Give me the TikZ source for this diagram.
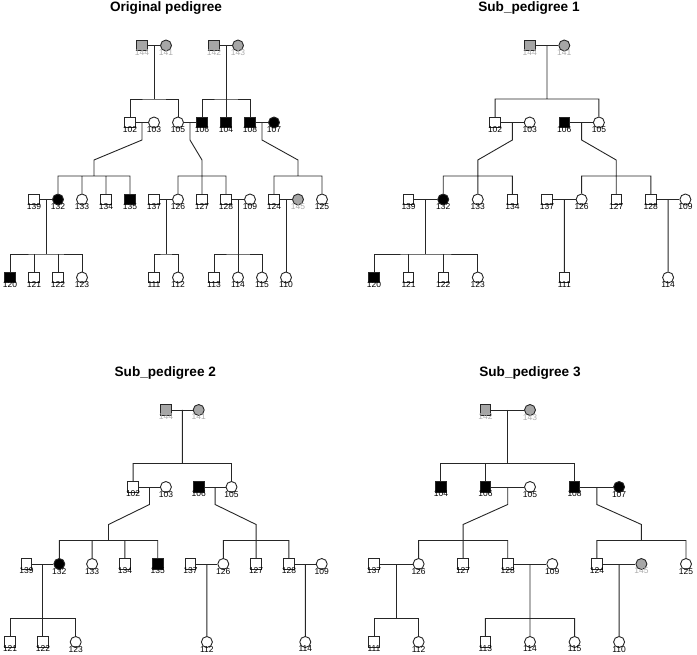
\documentclass[tikz,border=0pt]{standalone}
\usepackage{fontspec}
\setmainfont{Liberation Sans}
\usepackage{xcolor}
\usepackage{tikz}
\usetikzlibrary{calc}

\definecolor{pedgrey}{RGB}{166,166,166}
\definecolor{labgrey}{RGB}{172,172,172}

\begin{document}
\begin{tikzpicture}[x=1pt, y=-1pt, label distance=-2pt, every label/.style={font=\fontsize{8.5}{10}\selectfont, inner sep=0pt}]
	\tikzstyle{male} = [rectangle, minimum size=10.5pt, inner sep=0pt, draw=black!85, line width=0.9pt, fill=white]
	\tikzstyle{female} = [circle, minimum size=11pt, inner sep=0pt, draw=black!85, line width=0.9pt, fill=white]
	\tikzstyle{aff} = [fill=black]
	\tikzstyle{unk} = [fill=pedgrey]
	\tikzstyle{greylab} = [text=labgrey]
	\tikzstyle{heading} = [font=\fontsize{13.6}{16}\selectfont\bfseries]
	\tikzstyle{pedline} = [draw=black!85, line width=0.9pt]
	
	\useasboundingbox (0,0) rectangle (697,655);
	
	% Original pedigree
	\node (otitle) [heading] at (166,8) {Original pedigree};
	
	\node (o144) [male, unk, label={[greylab]below:144}] at (142,45.5) {};
	\node (o141) [female, unk, label={[greylab]below:141}] at (166,45.5) {};
	\node (o142) [male, unk, label={[greylab]below:142}] at (214,45.5) {};
	\node (o143) [female, unk, label={[greylab]below:143}] at (238,45.5) {};
	
	\node (o102) [male, label=below:102] at (130,122.5) {};
	\node (o103) [female, label=below:103] at (154,122.5) {};
	\node (o105) [female, label=below:105] at (178,122.5) {};
	\node (o106) [male, aff, label=below:106] at (202,122.5) {};
	\node (o104) [male, aff, label=below:104] at (226,122.5) {};
	\node (o108) [male, aff, label=below:108] at (250,122.5) {};
	\node (o107) [female, aff, label=below:107] at (274,122.5) {};
	
	\node (o139) [male, label=below:139] at (34,199.5) {};
	\node (o132) [female, aff, label=below:132] at (58,199.5) {};
	\node (o133) [female, label=below:133] at (82,199.5) {};
	\node (o134) [male, label=below:134] at (106,199.5) {};
	\node (o135) [male, aff, label=below:135] at (130,199.5) {};
	\node (o137) [male, label=below:137] at (154,199.5) {};
	\node (o126) [female, label=below:126] at (178,199.5) {};
	\node (o127) [male, label=below:127] at (202,199.5) {};
	\node (o128) [male, label=below:128] at (226,199.5) {};
	\node (o109) [female, label=below:109] at (250,199.5) {};
	\node (o124) [male, label=below:124] at (274,199.5) {};
	\node (o145) [female, unk, label={[greylab]below:145}] at (298,199.5) {};
	\node (o125) [female, label=below:125] at (322,199.5) {};
	
	\node (o120) [male, aff, label=below:120] at (10,277.5) {};
	\node (o121) [male, label=below:121] at (34,277.5) {};
	\node (o122) [male, label=below:122] at (58,277.5) {};
	\node (o123) [female, label=below:123] at (82,277.5) {};
	\node (o111) [male, label=below:111] at (154,277.5) {};
	\node (o112) [female, label=below:112] at (178,277.5) {};
	\node (o113) [male, label=below:113] at (214,277.5) {};
	\node (o114) [female, label=below:114] at (238,277.5) {};
	\node (o115) [female, label=below:115] at (262,277.5) {};
	\node (o110) [female, label=below:110] at (286,277.5) {};
	
	\coordinate (os1) at (154,99);
	\coordinate (os2) at (226,99);
	\coordinate (os3) at (94,176);
	\coordinate (os4) at (202,176);
	\coordinate (os5) at (298,176);
	\coordinate (os6) at (46,254);
	\coordinate (os7) at (166,254);
	\coordinate (os8) at (238,254);
	
	\draw [pedline] (o144) -- (o141) (o142) -- (o143) (o102) -- (o103) (o105) -- (o106) (o108) -- (o107) (o139) -- (o132) (o137) -- (o126) (o128) -- (o109) (o124) -- (o145);
	\draw [pedline] ($(o144)!.5!(o141)$) -- (os1) (o102.north) |- (os1) -| (o105.north);
	\draw [pedline] ($(o142)!.5!(o143)$) -- (os2) (o106.north) |- (os2) -| (o108.north) (o104.north) -- (o104 |- os2);
	\draw [pedline] ($(o102)!.5!(o103)$) -- ++(0,17.5) -- ($(os3)+(0,-16)$) -- (os3) (o132.north) |- (os3) -| (o135.north) (o133.north) -- (o133 |- os3) (o134.north) -- (o134 |- os3);
	\draw [pedline] ($(o105)!.5!(o106)$) -- ++(0,17.5) -- ($(os4)+(0,-16)$) -- (os4) (o126.north) |- (os4) -| (o128.north) (o127.north) -- (o127 |- os4);
	\draw [pedline] ($(o108)!.5!(o107)$) -- ++(0,17.5) -- ($(os5)+(0,-16)$) -- (os5) (o124.north) |- (os5) -| (o125.north);
	\draw [pedline] ($(o139)!.5!(o132)$) -- (os6) (o120.north) |- (os6) -| (o123.north) (o121.north) -- (o121 |- os6) (o122.north) -- (o122 |- os6);
	\draw [pedline] ($(o137)!.5!(o126)$) -- (os7) (o111.north) |- (os7) -| (o112.north);
	\draw [pedline] ($(o128)!.5!(o109)$) -- (os8) (o113.north) |- (os8) -| (o115.north) (o114.north) -- (o114 |- os8);
	\draw [pedline] ($(o124)!.5!(o145)$) -- (o110.north);
	
	% Sub_pedigree 1
	\node (satitle) [heading] at (529,8) {Sub\_pedigree 1};
	
	\node (sa144) [male, unk, label={[greylab]below:144}] at (529.7,45.5) {};
	\node (sa141) [female, unk, label={[greylab]below:141}] at (564.3,45.5) {};
	
	\node (sa102) [male, label=below:102] at (495.1,122.5) {};
	\node (sa103) [female, label=below:103] at (529.7,122.5) {};
	\node (sa106) [male, aff, label=below:106] at (564.3,122.5) {};
	\node (sa105) [female, label=below:105] at (598.9,122.5) {};
	
	\node (sa139) [male, label=below:139] at (408.6,199.5) {};
	\node (sa132) [female, aff, label=below:132] at (443.2,199.5) {};
	\node (sa133) [female, label=below:133] at (477.8,199.5) {};
	\node (sa134) [male, label=below:134] at (512.4,199.5) {};
	\node (sa137) [male, label=below:137] at (547,199.5) {};
	\node (sa126) [female, label=below:126] at (581.6,199.5) {};
	\node (sa127) [male, label=below:127] at (616.2,199.5) {};
	\node (sa128) [male, label=below:128] at (650.8,199.5) {};
	\node (sa109) [female, label=below:109] at (685.4,199.5) {};
	
	\node (sa120) [male, aff, label=below:120] at (374,277.5) {};
	\node (sa121) [male, label=below:121] at (408.6,277.5) {};
	\node (sa122) [male, label=below:122] at (443.2,277.5) {};
	\node (sa123) [female, label=below:123] at (477.8,277.5) {};
	\node (sa111) [male, label=below:111] at (564.3,277.5) {};
	\node (sa114) [female, label=below:114] at (668.1,277.5) {};
	
	\coordinate (sas1) at (547,99);
	\coordinate (sas2) at (477.8,176);
	\coordinate (sas3) at (616.2,176);
	\coordinate (sas4) at (425.9,254);
	
	\draw [pedline] (sa144) -- (sa141) (sa102) -- (sa103) (sa106) -- (sa105) (sa139) -- (sa132) (sa137) -- (sa126) (sa128) -- (sa109);
	\draw [pedline] ($(sa144)!.5!(sa141)$) -- (sas1) (sa102.north) |- (sas1) -| (sa105.north);
	\draw [pedline] ($(sa102)!.5!(sa103)$) -- ++(0,17.5) -- ($(sas2)+(0,-16)$) -- (sas2) (sa132.north) |- (sas2) -| (sa134.north) (sa133.north) -- (sa133 |- sas2);
	\draw [pedline] ($(sa106)!.5!(sa105)$) -- ++(0,17.5) -- ($(sas3)+(0,-16)$) -- (sas3) (sa126.north) |- (sas3) -| (sa128.north) (sa127.north) -- (sa127 |- sas3);
	\draw [pedline] ($(sa139)!.5!(sa132)$) -- (sas4) (sa120.north) |- (sas4) -| (sa123.north) (sa121.north) -- (sa121 |- sas4) (sa122.north) -- (sa122 |- sas4);
	\draw [pedline] ($(sa137)!.5!(sa126)$) -- (sa111.north) ($(sa128)!.5!(sa109)$) -- (sa114.north);
	
	% Sub_pedigree 2
	\node (sbtitle) [heading] at (165.3,372.7) {Sub\_pedigree 2};
	
	\node (sb144) [male, unk, label={[greylab]below:144}] at (165.9,410) {};
	\node (sb141) [female, unk, label={[greylab]below:141}] at (198.7,410) {};
	
	\node (sb102) [male, label=below:102] at (133.1,487) {};
	\node (sb103) [female, label=below:103] at (165.9,487) {};
	\node (sb106) [male, aff, label=below:106] at (198.7,487) {};
	\node (sb105) [female, label=below:105] at (231.5,487) {};
	
	\node (sb139) [male, label=below:139] at (26.5,564) {};
	\node (sb132) [female, aff, label=below:132] at (59.3,564) {};
	\node (sb133) [female, label=below:133] at (92.1,564) {};
	\node (sb134) [male, label=below:134] at (124.9,564) {};
	\node (sb135) [male, aff, label=below:135] at (157.7,564) {};
	\node (sb137) [male, label=below:137] at (190.5,564) {};
	\node (sb126) [female, label=below:126] at (223.3,564) {};
	\node (sb127) [male, label=below:127] at (256.1,564) {};
	\node (sb128) [male, label=below:128] at (288.9,564) {};
	\node (sb109) [female, label=below:109] at (321.7,564) {};
	
	\node (sb121) [male, label=below:121] at (10.1,642) {};
	\node (sb122) [male, label=below:122] at (42.9,642) {};
	\node (sb123) [female, label=below:123] at (75.7,642) {};
	\node (sb112) [female, label=below:112] at (206.9,642) {};
	\node (sb114) [female, label=below:114] at (305.3,642) {};
	
	\coordinate (sbs1) at (182.3,463.5);
	\coordinate (sbs2) at (108.5,540.5);
	\coordinate (sbs3) at (256.1,540.5);
	\coordinate (sbs4) at (42.9,618.5);
	
	\draw [pedline] (sb144) -- (sb141) (sb102) -- (sb103) (sb106) -- (sb105) (sb139) -- (sb132) (sb137) -- (sb126) (sb128) -- (sb109);
	\draw [pedline] ($(sb144)!.5!(sb141)$) -- (sbs1) (sb102.north) |- (sbs1) -| (sb105.north);
	\draw [pedline] ($(sb102)!.5!(sb103)$) -- ++(0,17.5) -- ($(sbs2)+(0,-16)$) -- (sbs2) (sb132.north) |- (sbs2) -| (sb135.north) (sb133.north) -- (sb133 |- sbs2) (sb134.north) -- (sb134 |- sbs2);
	\draw [pedline] ($(sb106)!.5!(sb105)$) -- ++(0,17.5) -- ($(sbs3)+(0,-16)$) -- (sbs3) (sb126.north) |- (sbs3) -| (sb128.north) (sb127.north) -- (sb127 |- sbs3);
	\draw [pedline] ($(sb139)!.5!(sb132)$) -- (sbs4) (sb121.north) |- (sbs4) -| (sb123.north) (sb122.north) -- (sb122 |- sbs4);
	\draw [pedline] ($(sb137)!.5!(sb126)$) -- (sb112.north) ($(sb128)!.5!(sb109)$) -- (sb114.north);
	
	% Sub_pedigree 3
	\node (sctitle) [heading] at (530,372.7) {Sub\_pedigree 3};
	
	\node (sc142) [male, unk, label={[greylab]below:142}] at (485.4,410) {};
	\node (sc143) [female, unk, label={[greylab]below:143}] at (530,410) {};
	
	\node (sc104) [male, aff, label=below:104] at (440.9,487) {};
	\node (sc106) [male, aff, label=below:106] at (485.4,487) {};
	\node (sc105) [female, label=below:105] at (530,487) {};
	\node (sc108) [male, aff, label=below:108] at (574.6,487) {};
	\node (sc107) [female, aff, label=below:107] at (619.1,487) {};
	
	\node (sc137) [male, label=below:137] at (374,564) {};
	\node (sc126) [female, label=below:126] at (418.6,564) {};
	\node (sc127) [male, label=below:127] at (463.1,564) {};
	\node (sc128) [male, label=below:128] at (507.7,564) {};
	\node (sc109) [female, label=below:109] at (552.3,564) {};
	\node (sc124) [male, label=below:124] at (596.9,564) {};
	\node (sc145) [female, unk, label={[greylab]below:145}] at (641.4,564) {};
	\node (sc125) [female, label=below:125] at (686,564) {};
	
	\node (sc111) [male, label=below:111] at (374,642) {};
	\node (sc112) [female, label=below:112] at (418.6,642) {};
	\node (sc113) [male, label=below:113] at (485.4,642) {};
	\node (sc114) [female, label=below:114] at (530,642) {};
	\node (sc115) [female, label=below:115] at (574.6,642) {};
	\node (sc110) [female, label=below:110] at (619.1,642) {};
	
	\coordinate (scs1) at (507.7,463.5);
	\coordinate (scs2) at (463.1,540.5);
	\coordinate (scs3) at (641.4,540.5);
	\coordinate (scs4) at (396.3,618.5);
	\coordinate (scs5) at (530,618.5);
	
	\draw [pedline] (sc142) -- (sc143) (sc106) -- (sc105) (sc108) -- (sc107) (sc137) -- (sc126) (sc128) -- (sc109) (sc124) -- (sc145);
	\draw [pedline] ($(sc142)!.5!(sc143)$) -- (scs1) (sc104.north) |- (scs1) -| (sc108.north) (sc106.north) -- (sc106 |- scs1);
	\draw [pedline] ($(sc106)!.5!(sc105)$) -- ++(0,17.5) -- ($(scs2)+(0,-16)$) -- (scs2) (sc126.north) |- (scs2) -| (sc128.north) (sc127.north) -- (sc127 |- scs2);
	\draw [pedline] ($(sc108)!.5!(sc107)$) -- ++(0,17.5) -- ($(scs3)+(0,-16)$) -- (scs3) (sc124.north) |- (scs3) -| (sc125.north);
	\draw [pedline] ($(sc137)!.5!(sc126)$) -- (scs4) (sc111.north) |- (scs4) -| (sc112.north);
	\draw [pedline] ($(sc128)!.5!(sc109)$) -- (scs5) (sc113.north) |- (scs5) -| (sc115.north) (sc114.north) -- (sc114 |- scs5);
	\draw [pedline] ($(sc124)!.5!(sc145)$) -- (sc110.north);
	
\end{tikzpicture}
\end{document}
